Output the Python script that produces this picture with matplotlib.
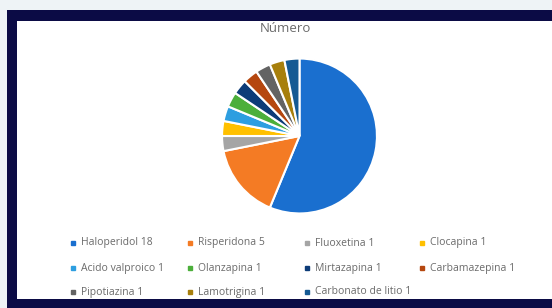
import matplotlib
matplotlib.use("Agg")
import matplotlib.pyplot as plt
from matplotlib.patches import Rectangle
from matplotlib.lines import Line2D

labels = ["Haloperidol", "Risperidona", "Fluoxetina", "Clocapina",
          "Acido valproico", "Olanzapina", "Mirtazapina", "Carbamazepina",
          "Pipotiazina", "Lamotrigina", "Carbonato de litio"]
values = [18, 5, 1, 1, 1, 1, 1, 1, 1, 1, 1]
colors = ["#1a6fcf", "#f47b24", "#a5a5a5", "#ffc000", "#2d9ee0", "#4caf3a",
          "#0d3c78", "#b5470f", "#636363", "#a77f0c", "#155a93"]
title = "Número"

W, H = 552, 308
fig = plt.figure(figsize=(W / 100, H / 100), dpi=100)
fig.patch.set_facecolor("#eef3f6")

def px(x, y):
    return x / W, 1 - y / H

# navy frame and white panel
fig.add_artist(Rectangle(px(7, 308), (W - 7) / W, (308 - 10) / H,
                         transform=fig.transFigure, facecolor="#0b0b45",
                         edgecolor="none", zorder=0))
fig.add_artist(Rectangle(px(17, 299), (W - 17) / W, (299 - 21) / H,
                         transform=fig.transFigure, facecolor="white",
                         edgecolor="none", zorder=0))

cx, cy, r = 299.5, 136, 79
ax = fig.add_axes([(cx - r) / W, (H - cy - r) / H, 2 * r / W, 2 * r / H])
ax.pie(values, colors=colors, startangle=90, counterclock=False, radius=1,
       wedgeprops=dict(edgecolor="white", linewidth=1.5))
ax.set_xlim(-1.02, 1.02)
ax.set_ylim(-1.02, 1.02)
ax.set_aspect("auto")
ax.axis("off")

tx, ty = px(285, 29)
fig.text(tx, ty, title, ha="center", va="center", fontsize=9.5,
         color="#6b6b6b", family="Open Sans")

col_x = [73, 190, 307, 422]
row_y = [243, 268, 292]
for i, (lab, val, c) in enumerate(zip(labels, values, colors)):
    row, col = divmod(i, 4)
    mx, my = px(col_x[col], row_y[row])
    fig.add_artist(Line2D([mx], [my], marker="s", markersize=3.3,
                          color=c, linestyle="none",
                          transform=fig.transFigure))
    lx, ly = px(col_x[col] + 8, row_y[row])
    fig.text(lx, ly, f"{lab} {val}", ha="left", va="center", fontsize=7.5,
             color="#6b6b6b", family="Open Sans")

fig.savefig("out.png", dpi=100, facecolor=fig.get_facecolor())
